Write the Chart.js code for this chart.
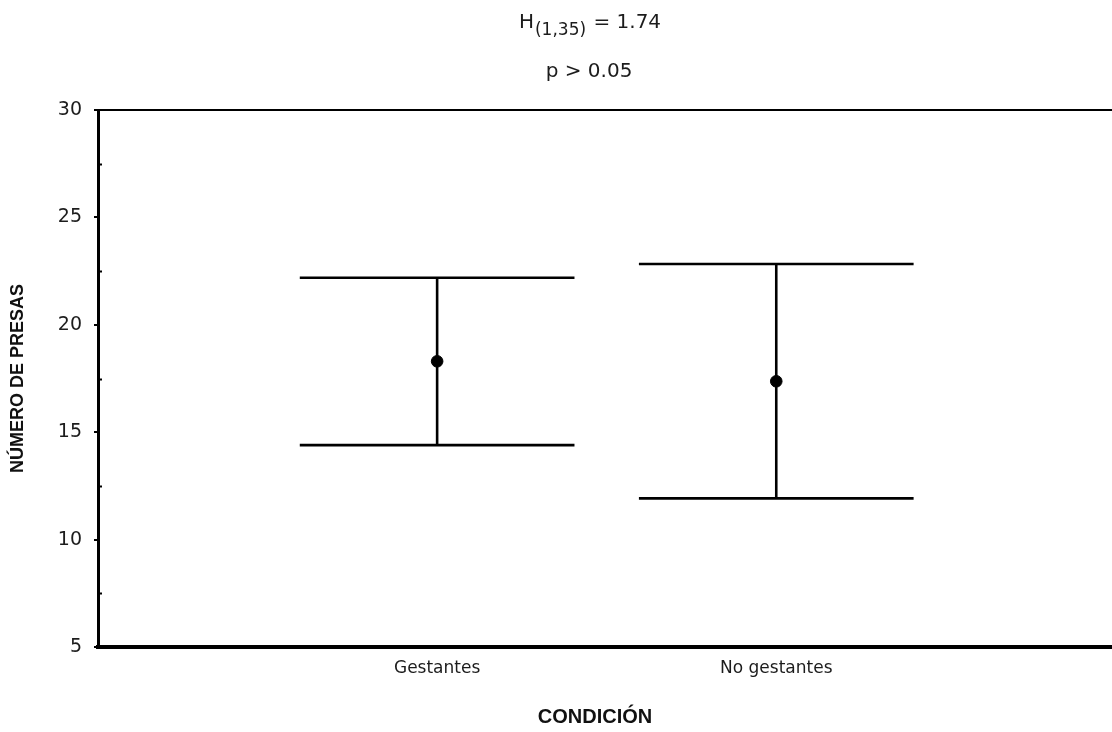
<!DOCTYPE html>
<html>
<head>
<meta charset="utf-8">
<title>Número de presas por condición</title>
<script src="https://cdn.jsdelivr.net/npm/chart.js@4/dist/chart.umd.min.js"></script>
<style>
  html, body { margin: 0; padding: 0; background: #ffffff; }
  #wrap { width: 1112px; height: 732px; position: relative; }
</style>
</head>
<body>
<div id="wrap"><canvas id="chart" width="1112" height="732"></canvas></div>
<script>
// Condition groups and their mean number of prey with interval limits
const categories = ['Gestantes', 'No gestantes'];
const means = [18.3, 17.37];
const lower = [14.4, 11.92];
const upper = [22.19, 22.83];
const yTicks = [5, 10, 15, 20, 25, 30];

// Statistic shown above the plot
const statName = 'H';
const statDf = '(1,35)';
const statValue = ' = 1.74';
const pText = 'p > 0.05';
const xTitle = 'CONDICIÓN';

const CAP_HALF = 0.405;          // half width of the whisker caps, in x units
const INK = '#000000';
const TEXT = '#1c1c1c';
const LIGHT_FONT = '"DejaVu Sans", sans-serif';
const BOLD_FONT = '"Liberation Sans", Arial, sans-serif';

// One dataset per whisker piece so every line goes through the scales
const datasets = [];
categories.forEach((c, i) => {
  const x = i + 1;
  const line = { type: 'line', showLine: true, borderColor: INK, borderWidth: 2.6,
                 pointRadius: 0, fill: false, tension: 0 };
  datasets.push(Object.assign({ label: c + ' rango', data: [{ x: x, y: lower[i] }, { x: x, y: upper[i] }] }, line));
  datasets.push(Object.assign({ label: c + ' sup', data: [{ x: x - CAP_HALF, y: upper[i] }, { x: x + CAP_HALF, y: upper[i] }] }, line));
  datasets.push(Object.assign({ label: c + ' inf', data: [{ x: x - CAP_HALF, y: lower[i] }, { x: x + CAP_HALF, y: lower[i] }] }, line));
});
datasets.push({
  type: 'scatter',
  label: 'Media',
  data: means.map((m, i) => ({ x: i + 1, y: m })),
  pointRadius: 5.8,
  pointBackgroundColor: INK,
  pointBorderColor: INK,
  showLine: false
});

// Heading with subscripted degrees of freedom, x axis title,
// and small inner minor ticks on the y axis
const decorations = {
  id: 'decorations',
  afterDraw(chart) {
    const ctx = chart.ctx;
    const area = chart.chartArea;
    const cx = (area.left + area.right) / 2 - 16;
    ctx.save();
    ctx.fillStyle = TEXT;
    ctx.textBaseline = 'alphabetic';
    ctx.textAlign = 'left';
    const big = '20px ' + LIGHT_FONT;
    const sub = '17px ' + LIGHT_FONT;
    ctx.font = big; const w1 = ctx.measureText(statName).width;
    ctx.font = sub; const w2 = ctx.measureText(statDf).width;
    ctx.font = big; const w3 = ctx.measureText(statValue).width;
    let x0 = cx - (w1 + w2 + w3) / 2;
    ctx.font = big; ctx.fillText(statName, x0, 28);
    ctx.font = sub; ctx.fillText(statDf, x0 + w1 + 1, 35);
    ctx.font = big; ctx.fillText(statValue, x0 + w1 + w2 + 2, 28);
    ctx.textAlign = 'center';
    ctx.fillText(pText, cx, 77);

    ctx.fillStyle = '#111111';
    ctx.font = 'bold 20px ' + BOLD_FONT;
    ctx.textBaseline = 'middle';
    ctx.fillText(xTitle, cx + 6, 717);

    const y = chart.scales.y;
    ctx.strokeStyle = INK;
    ctx.lineWidth = 2;
    for (let i = 0; i < yTicks.length - 1; i++) {
      const v = (yTicks[i] + yTicks[i + 1]) / 2;
      const py = Math.round(y.getPixelForValue(v)) + 0.5;
      ctx.beginPath();
      ctx.moveTo(area.left, py);
      ctx.lineTo(area.left + 4, py);
      ctx.stroke();
    }
    ctx.restore();
  }
};

// Horizontal axes take the full width to the right edge
function fitHorizontal(height) {
  return function (scale) {
    scale.height = height;
    scale.paddingLeft = 0;
    scale.paddingRight = 0;
  };
}

new Chart(document.getElementById('chart'), {
  type: 'scatter',
  data: { datasets: datasets },
  options: {
    responsive: false,
    animation: false,
    events: [],
    layout: { autoPadding: false, padding: { top: 110, right: 0, bottom: 0, left: 0 } },
    plugins: {
      legend: { display: false },
      tooltip: { enabled: false },
      title: { display: false }
    },
    scales: {
      x: {
        type: 'linear',
        position: 'bottom',
        min: 0,
        max: 2.99,
        afterBuildTicks(scale) {
          scale.ticks = categories.map((c, i) => ({ value: i + 1 }));
        },
        afterFit: fitHorizontal(85),
        ticks: {
          callback: (v) => categories[v - 1] || '',
          color: TEXT,
          font: { family: LIGHT_FONT, size: 17 },
          padding: 11,
          maxRotation: 0,
          autoSkip: false
        },
        grid: { drawOnChartArea: false, drawTicks: false },
        border: { display: true, color: INK, width: 4 }
      },
      xTop: {
        type: 'linear',
        position: 'top',
        min: 0,
        max: 2.99,
        afterBuildTicks(scale) { scale.ticks = []; },
        afterFit: fitHorizontal(0),
        ticks: { display: false },
        grid: { drawOnChartArea: false, drawTicks: false },
        border: { display: true, color: INK, width: 2 }
      },
      y: {
        type: 'linear',
        position: 'left',
        min: 5,
        max: 30,
        afterBuildTicks(scale) {
          scale.ticks = yTicks.map(v => ({ value: v }));
        },
        afterFit(scale) { scale.width = 98; },
        ticks: {
          color: TEXT,
          font: { family: LIGHT_FONT, size: 19 },
          padding: 12
        },
        grid: { drawOnChartArea: false, drawTicks: true, tickLength: 4, color: INK, lineWidth: 2 },
        border: { display: true, color: INK, width: 3 },
        title: {
          display: true,
          text: 'NÚMERO DE PRESAS',
          color: '#111111',
          font: { family: BOLD_FONT, size: 18, weight: 'bold' },
          padding: { top: 7, bottom: 0 }
        }
      }
    }
  },
  plugins: [decorations]
});
</script>
</body>
</html>
